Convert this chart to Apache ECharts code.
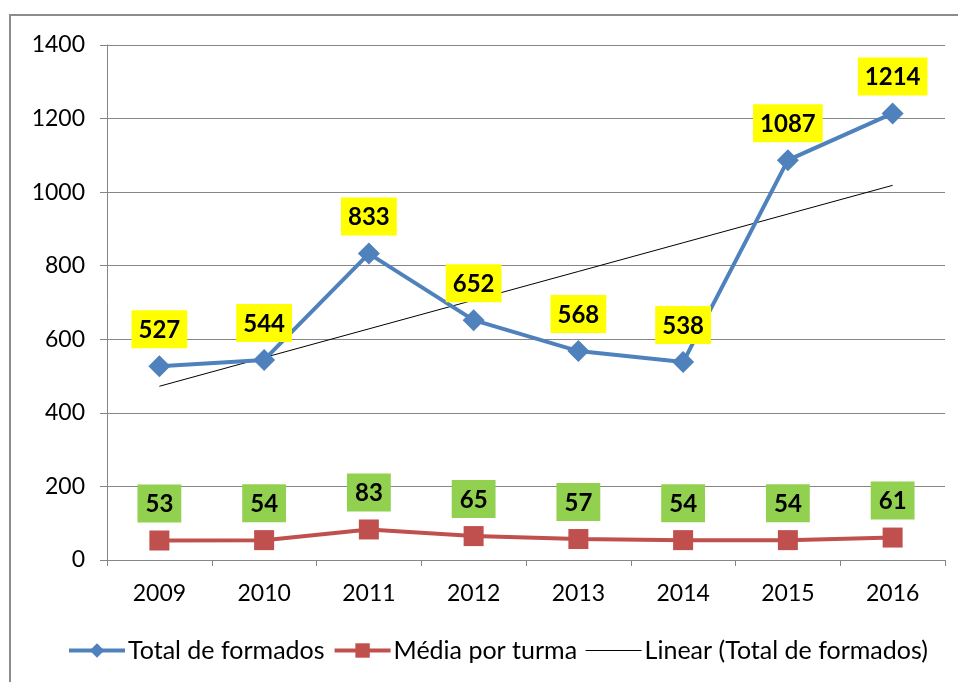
<!DOCTYPE html>
<html><head><meta charset="utf-8">
<script src="https://cdn.jsdelivr.net/npm/echarts@6/dist/echarts.min.js"></script>
<style>html,body{margin:0;padding:0;background:#fff}#c{width:958px;height:682px}</style>
</head><body><div id="c"></div>
<script>
var categories = ['2009','2010','2011','2012','2013','2014','2015','2016'];
var totalFormados = [527, 544, 833, 652, 568, 538, 1087, 1214];
var mediaTurma = [53, 54, 83, 65, 57, 54, 54, 61];
var yTicks = [0, 200, 400, 600, 800, 1000, 1200, 1400];

// linear trendline (least squares) of totalFormados
var n = totalFormados.length, sx = 0, sy = 0, sxy = 0, sxx = 0;
totalFormados.forEach(function (v, i) { var x = i + 1; sx += x; sy += v; sxy += x * v; sxx += x * x; });
var slope = (n * sxy - sx * sy) / (n * sxx - sx * sx);
var icpt = (sy - slope * sx) / n;
var trend = totalFormados.map(function (v, i) { return +(icpt + slope * (i + 1)).toFixed(2); });

var FONT = 'Lato, "Open Sans", sans-serif';
var chart = echarts.init(document.getElementById('c'));
chart.setOption({
  animation: false,
  textStyle: { fontFamily: FONT },
  graphic: [{ type: 'rect', shape: { x: 10, y: 15, width: 980, height: 700 }, style: { fill: 'none', stroke: '#8c8c8c', lineWidth: 2 }, silent: true }],
  grid: { left: 107, right: 13, top: 45, bottom: 122 },
  legend: {
    bottom: 14, left: 62, itemGap: 8, itemWidth: 56, itemHeight: 18,
    textStyle: { fontSize: 25, color: '#000', fontFamily: FONT, padding: [0, 0, 0, -2] },
    data: [
      { name: 'Total de formados', lineStyle: { width: 4 } },
      { name: 'Média por turma', lineStyle: { width: 4 } },
      { name: 'Linear (Total de formados)', lineStyle: { width: 1, color: '#000' }, itemStyle: { opacity: 0 } }
    ]
  },
  xAxis: {
    type: 'category', data: categories, boundaryGap: true,
    axisLine: { lineStyle: { color: '#868686', width: 1 } },
    axisTick: { show: true, length: 6, lineStyle: { color: '#868686' } },
    axisLabel: { fontSize: 23, color: '#000', margin: 22 }
  },
  yAxis: {
    type: 'value', min: 0, max: 1400, interval: 200,
    axisLine: { show: true, lineStyle: { color: '#868686' } },
    axisTick: { show: true, length: 7, lineStyle: { color: '#868686' } },
    axisLabel: { fontSize: 23, color: '#000', margin: 22, formatter: function (v) { return String(v); } },
    splitLine: { lineStyle: { color: '#868686', width: 1 } }
  },
  series: [
    {
      name: 'Total de formados', type: 'line', data: totalFormados,
      symbol: 'diamond', symbolSize: 22,
      lineStyle: { color: '#4F81BD', width: 4 },
      itemStyle: { color: '#4F81BD' },
      label: {
        show: true, position: 'top', distance: 7,
        backgroundColor: '#FFFF00', color: '#000', fontWeight: 'bold', fontSize: 24,
        padding: [8, 7, 6, 7], fontFamily: FONT
      },
      z: 3
    },
    {
      name: 'Média por turma', type: 'line', data: mediaTurma,
      symbol: 'rect', symbolSize: 20,
      lineStyle: { color: '#C0504D', width: 4 },
      itemStyle: { color: '#C0504D' },
      label: {
        show: true, position: 'top', distance: 8,
        backgroundColor: '#92D050', color: '#000', fontWeight: 'bold', fontSize: 24,
        padding: [8, 8, 6, 8], fontFamily: FONT
      },
      z: 3
    },
    {
      name: 'Linear (Total de formados)', type: 'line', data: trend,
      symbol: 'none', lineStyle: { color: '#000', width: 1 }, itemStyle: { color: '#000' },
      z: 2
    }
  ]
});
</script></body></html>
